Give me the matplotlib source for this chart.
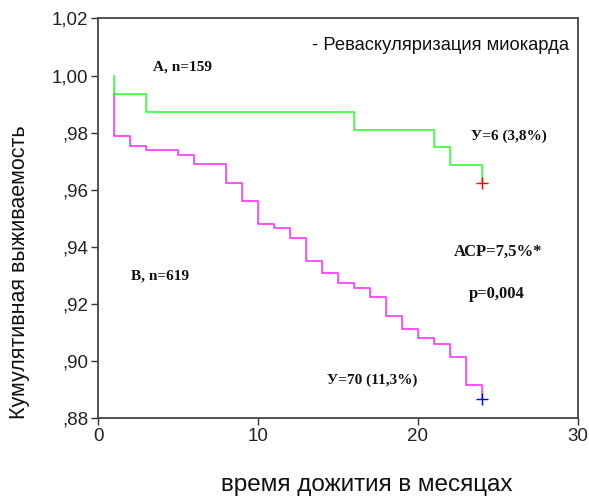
import numpy as np
import matplotlib
matplotlib.use("Agg")
import matplotlib.pyplot as plt

# Revascularization group A (green) and B (magenta), Kaplan-Meier steps
timeA = [1, 1, 3, 16, 21, 22, 24]
survA = [1.000, 0.9937, 0.9874, 0.9810, 0.9750, 0.9686, 0.9623]

timeB = [1, 1, 2, 3, 5, 6, 8, 9, 10, 11, 12, 13, 14, 15, 16, 17, 18, 19, 20, 21, 22, 23, 24]
survB = [0.9937, 0.9787, 0.9754, 0.9740, 0.9723, 0.9690, 0.9625, 0.9560, 0.9480, 0.9466,
         0.9432, 0.9350, 0.9308, 0.9275, 0.9258, 0.9224, 0.9159, 0.9112, 0.9080, 0.9062,
         0.9015, 0.8916, 0.8868]

yticks = [0.88, 0.90, 0.92, 0.94, 0.96, 0.98, 1.00, 1.02]
yticklabels = [",88", ",90", ",92", ",94", ",96", ",98", "1,00", "1,02"]
xticks = [0, 10, 20, 30]

plt.rcParams['font.family'] = ['Liberation Sans', 'DejaVu Sans']

fig = plt.figure(figsize=(5.89, 4.97), dpi=100)
ax = fig.add_axes([0.1664, 0.158, 0.8149, 0.8048])

ax.step(timeB, survB, where='post', color='#ff33ff', lw=1.2)
ax.step(timeA, survA, where='post', color='#33ff33', lw=1.2)
ax.plot(timeA[-1], survA[-1], marker='+', color='red', ms=8, mew=1)
ax.plot(timeB[-1], survB[-1], marker='+', color='blue', ms=8, mew=1)

ax.set_xlim(0, 30)
ax.set_ylim(0.88, 1.02)
ax.set_xticks(xticks)
ax.set_yticks(yticks)
ax.set_yticklabels(yticklabels)
ax.tick_params(direction='out', length=5, width=1, labelsize=13.5, colors='#333333',
               labelcolor='#222222', pad=2)
for sp in ax.spines.values():
    sp.set_color('#444444')
    sp.set_linewidth(1.3)

fig.text(0.033, 0.453, "Кумулятивная выживаемость", rotation=90, ha='center', va='center',
         fontsize=15.5, color='#111111')
fig.text(0.622, 0.024, "время дожития в месяцах", ha='center', va='center',
         fontsize=17.5, color='#111111')

ax.text(13.4, 1.0105, "- Реваскуляризация миокарда", ha='left', va='center',
        fontsize=13.2, color='#111111')

serif = dict(family=['Liberation Serif', 'DejaVu Serif'], fontweight='bold', color='#111111',
             va='center', ha='left')
ax.text(3.44, 1.0031, "A, n=159", fontsize=11, **serif)
ax.text(23.3, 0.9787, "У=6 (3,8%)", fontsize=11, **serif)
ax.text(22.25, 0.9382, "АСР=7,5%*", fontsize=12, **serif)
ax.text(23.2, 0.9236, "р=0,004", fontsize=12, **serif)
ax.text(2.06, 0.9298, "B, n=619", fontsize=11, **serif)
ax.text(14.3, 0.8935, "У=70 (11,3%)", fontsize=11, **serif)

fig.savefig("out.png", dpi=100)
